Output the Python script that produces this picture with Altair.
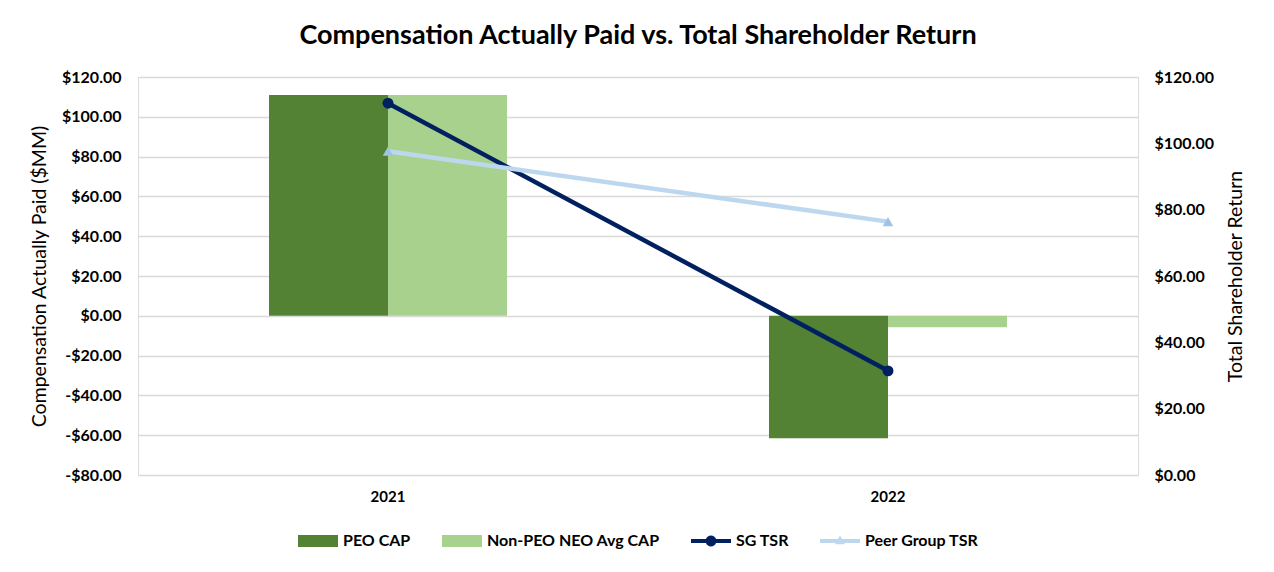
import altair as alt
import pandas as pd

# ---- data ----
years = ["2021", "2022"]
peo_cap = [111.0, -61.5]
non_peo_cap = [111.0, -5.7]
sg_tsr = [112.1, 31.4]
peer_tsr = [97.6, 76.4]

series = ["PEO CAP", "Non-PEO NEO Avg CAP", "SG TSR", "Peer Group TSR"]
colors = ["#548235", "#A9D18E", "#002060", "#BDD7EE"]

left_ticks = [-80, -60, -40, -20, 0, 20, 40, 60, 80, 100, 120]
right_ticks = [0, 20, 40, 60, 80, 100, 120]

bar_df = pd.DataFrame({
    "year": years * 2,
    "series": [series[0]] * 2 + [series[1]] * 2,
    "value": peo_cap + non_peo_cap,
})
tsr_df = pd.DataFrame({
    "year": years * 2,
    "series": [series[2]] * 2 + [series[3]] * 2,
    "tsr": sg_tsr + peer_tsr,
})

FONT = "Lato"

# legend symbol shapes (normalised paths)
legend_paths = [
    "M-1,-0.3H1V0.3H-1Z",
    "M-1,-0.3H1V0.3H-1Z",
    "M-1,-0.1H-0.2508A0.27,0.27 0 0 1 0.2508,-0.1H1V0.1H0.2508A0.27,0.27 0 0 1 -0.2508,0.1H-1Z",
    "M-1,-0.1H-0.102L0,-0.28L0.102,-0.1H1V0.1H0.216L0.25,0.16H-0.25L-0.216,0.1H-1Z",
]

color_scale = alt.Scale(domain=series, range=colors)

x_enc = alt.X(
    "year:N",
    scale=alt.Scale(paddingInner=0.524, paddingOuter=0.262),
    axis=alt.Axis(title=None, labelAngle=0, ticks=False, domain=False, grid=False,
                  labelFont=FONT, labelFontSize=15, labelFontWeight="bold",
                  labelColor="black", labelPadding=14),
)

left_axis = alt.Axis(
    title="Compensation Actually Paid ($MM)",
    values=left_ticks,
    labelExpr="(datum.value < 0 ? '-' : '') + '$' + format(abs(datum.value), '.2f')",
    ticks=False, domain=False, grid=True, gridColor="#D9D9D9", gridWidth=1.5,
    labelFont=FONT, labelFontSize=16, labelFontWeight="bold", labelColor="black",
    labelPadding=17, titleFont=FONT, titleFontSize=19.5, titleFontWeight="normal",
    titleColor="black", titlePadding=12,
)

right_axis = alt.Axis(
    title="Total Shareholder Return",
    orient="right",
    values=right_ticks,
    labelExpr="'$' + format(datum.value, '.2f')",
    ticks=False, domain=False, grid=False,
    labelFont=FONT, labelFontSize=16, labelFontWeight="bold", labelColor="black",
    labelPadding=16, titleFont=FONT, titleFontSize=19.5, titleFontWeight="normal",
    titleColor="black", titlePadding=32, titleAngle=270,
)

legend = alt.Legend(
    title=None, orient="none", legendX=160, legendY=444, direction="horizontal",
    labelFont=FONT, labelFontSize=16, labelFontWeight="bold", labelColor="black",
    labelLimit=400,
    symbolSize=1600, symbolStrokeWidth=0, labelOffset=5, columnPadding=31,
    symbolOpacity=1,
)

bars = alt.Chart(bar_df).mark_bar().encode(
    x=x_enc,
    xOffset=alt.XOffset("series:N", sort=series[:2],
                        scale=alt.Scale(domain=series[:2], paddingInner=0, paddingOuter=0)),
    y=alt.Y("value:Q", scale=alt.Scale(domain=[-80, 120], nice=False), axis=left_axis),
    color=alt.Color("series:N", scale=color_scale, legend=legend),
)

y_right = alt.Y("tsr:Q", scale=alt.Scale(domain=[0, 120], nice=False), axis=right_axis)

lines = alt.Chart(tsr_df).mark_line(strokeWidth=4.5).encode(
    x=x_enc,
    y=y_right,
    color=alt.Color("series:N", scale=color_scale, legend=legend),
)

sg_points = alt.Chart(tsr_df).transform_filter(
    alt.datum.series == "SG TSR"
).mark_point(filled=True, shape="circle", size=120, opacity=1, color="#002060").encode(
    x=x_enc, y=y_right,
)

peer_points = alt.Chart(tsr_df).transform_filter(
    alt.datum.series == "Peer Group TSR"
).mark_point(filled=True, shape="triangle-up", size=110, opacity=1, color="#9DC3E6").encode(
    x=x_enc, y=y_right,
)

legend_layer = alt.Chart(tsr_df).transform_filter("false").mark_point(filled=True).encode(
    x=x_enc, y=y_right,
    color=alt.Color("series:N", scale=color_scale, legend=legend),
    shape=alt.Shape("series:N", scale=alt.Scale(domain=series, range=legend_paths), legend=legend),
)

right_layer = alt.layer(lines, sg_points, peer_points, legend_layer)

chart = alt.layer(bars, right_layer).resolve_scale(y="independent").properties(
    width=1000,
    height=398,
    padding={"left": 21, "top": 14, "right": 5, "bottom": 5},
    title=alt.TitleParams(
        "Compensation Actually Paid vs. Total Shareholder Return",
        font=FONT, fontSize=27, fontWeight="bold", color="black",
        anchor="middle", offset=19,
    ),
).configure_view(stroke=None).configure(background="white")

chart.save("out.html", embed_options={"renderer": "svg", "actions": False})
